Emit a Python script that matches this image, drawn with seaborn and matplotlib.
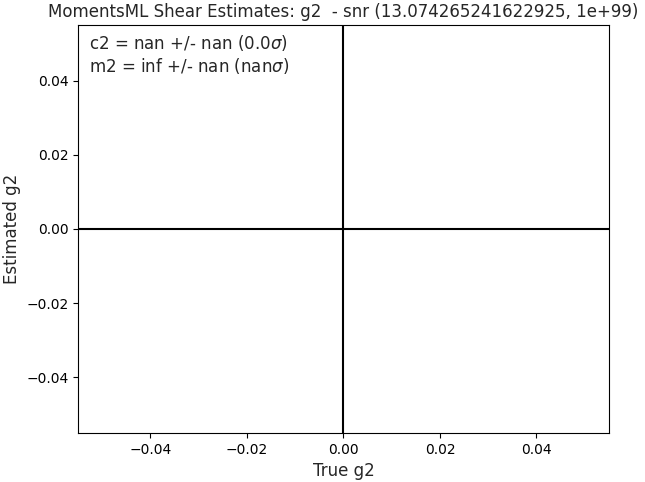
import matplotlib
matplotlib.use("Agg")
import matplotlib.pyplot as plt
import seaborn as sns
import numpy as np
import pandas as pd

# shear estimates (all nan in the reference, so nothing scatters)
true_g2 = []
est_g2 = []
snr_range = (13.074265241622925, 1e+99)
c2_txt = "c2 = nan +/- nan (0.0$\\sigma$)"
m2_txt = "m2 = inf +/- nan (nan$\\sigma$)"
lim = 0.055

sns.set_style("ticks")
plt.rcParams['font.family'] = ['DejaVu Sans']

fig, ax = plt.subplots(figsize=(6.45, 4.82), dpi=100)
df = pd.DataFrame({"true": np.array(true_g2, dtype=float), "est": np.array(est_g2, dtype=float)})
sns.scatterplot(data=df, x="true", y="est", ax=ax)

ax.axhline(0, color="black")
ax.axvline(0, color="black")
ax.set_xlim(-lim, lim)
ax.set_ylim(-lim, lim)
for s in ax.spines.values():
    s.set_visible(True)
    s.set_color("black")
    s.set_linewidth(0.8)
ax.tick_params(colors="black", labelsize=10)

ax.text(0.02, 0.98, c2_txt + "\n" + m2_txt, transform=ax.transAxes,
        va="top", ha="left", fontsize=12)
ax.set_title(f"MomentsML Shear Estimates: g2  - snr {snr_range}", fontsize=12)
ax.set_xlabel("True g2", fontsize=12)
ax.set_ylabel("Estimated g2", fontsize=12)

fig.subplots_adjust(left=0.121, right=0.944, top=0.948, bottom=0.102)
fig.savefig("out.png")
